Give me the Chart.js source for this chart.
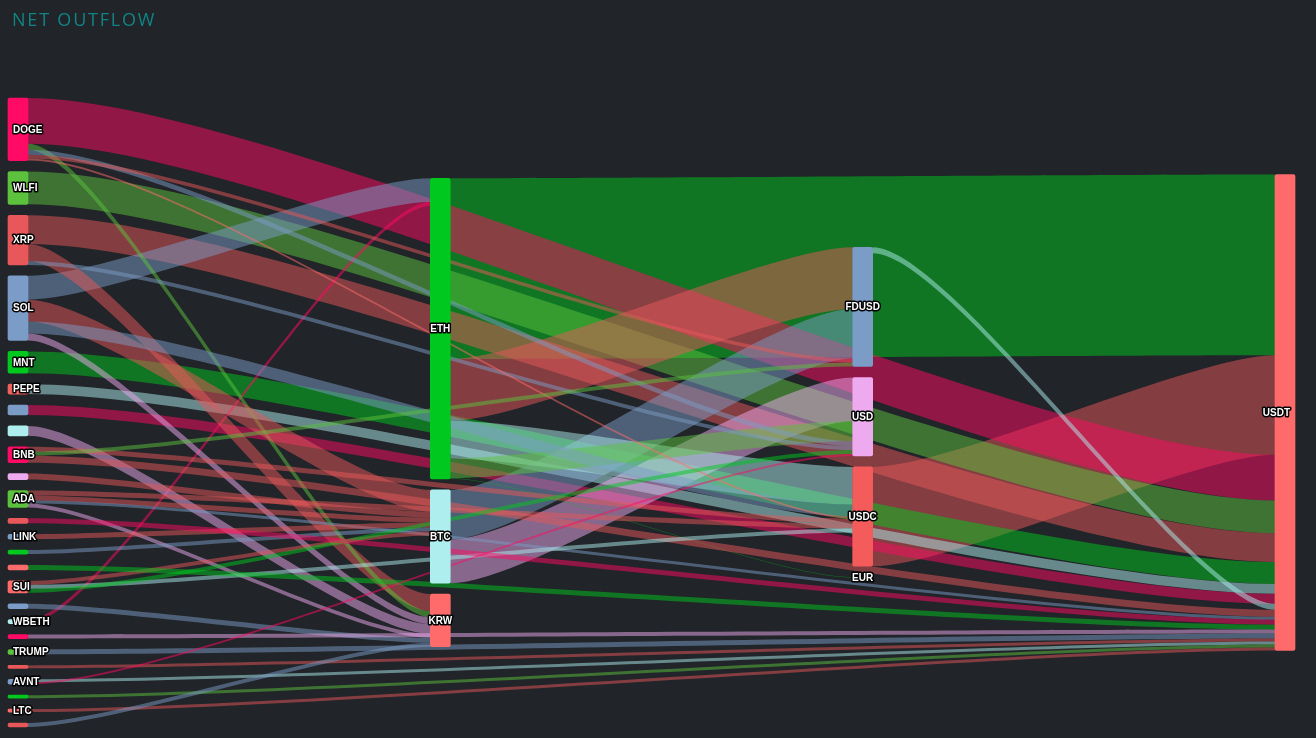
<!DOCTYPE html>
<html>
<head>
<meta charset="utf-8">
<script src="https://cdn.jsdelivr.net/npm/chart.js@4.4.1/dist/chart.umd.min.js"></script>
<style>
html,body{margin:0;padding:0;background:#212428;overflow:hidden}
canvas{display:block}
</style>
</head>
<body>
<canvas id="c" width="1316" height="738"></canvas>
<script>
// ---------------- DATA ----------------
const chartTitle = 'NET OUTFLOW';

// nodes (ids), their visible labels ('' = label hidden) and colours
const nodeIds = ['DOGE','WLFI','XRP','SOL','MNT','PEPE','c6','c7','BNB','c9','ADA','c11','LINK','c13','c14','SUI','c16','WBETH','c18','TRUMP','c20','AVNT','c22','LTC','c24',
                 'ETH','BTC','KRW','FDUSD','USD','USDC','EUR','USDT'];
const nodeLabels = ['DOGE','WLFI','XRP','SOL','MNT','PEPE','','','BNB','','ADA','','LINK','','','SUI','','WBETH','','TRUMP','','AVNT','','LTC','',
                 'ETH','BTC','KRW','FDUSD','USD','USDC','EUR','USDT'];
const nodeColors = ['#ff0a64','#5cc13d','#e8575a','#7b9cc6','#00c81e','#f0605d','#7b9cc6','#aeeeee','#ff0a64','#eeaaee','#5cc13d','#e8575a','#7b9cc6','#00c81e','#ff6b6b','#ff6b6b','#7b9cc6','#aeeeee','#ff0a64','#5cc13d','#e8575a','#7b9cc6','#00c81e','#ff6b6b','#e8575a',
                 '#00c81e','#aeeeee','#ff6b6b','#7b9cc6','#eeaaee','#f45b5b','#5cc13d','#ff6b6b'];

// links (flows), in data order
const linkFrom = ['ETH','USDC','DOGE','WLFI','XRP','MNT','PEPE','c6','FDUSD','SOL','WBETH','ETH','BTC','BTC','ETH','ETH','ETH',
                  'XRP','DOGE','DOGE','XRP','DOGE','SOL','SOL','DOGE','SOL','c7','BNB','BNB','BNB','c9','ADA','ADA','ADA','ADA',
                  'LINK','c13','SUI','SUI','SUI','c11','c14','c16','c18','TRUMP','c20','AVNT','AVNT','c22','LTC','c24'];
const linkTo   = ['USDT','USDT','USDT','USDT','USDT','USDT','USDT','USDT','USDT','ETH','ETH','FDUSD','FDUSD','USD','USDC','USD','EUR',
                  'KRW','KRW','USD','USD','FDUSD','BTC','USDC','USDC','KRW','KRW','USDC','FDUSD','USDT','BTC','USDC','BTC','USDT','KRW',
                  'BTC','BTC','BTC','USDC','USD','USDT','USDT','KRW','USDT','USDT','USDT','USDT','USD','USDT','USDT','KRW'];
const linkValues = [182,100,46,33,29,22,10,10,6,24,4,62,50,44,38,20,0.5,
                  17,6,5,4,4,22,12,2,7,10,5,4,7,6,5,5,3,4,
                  5,4,4,4,4,5,5,5,4,5,3,3,2,3,3,4];
const CR='#ff0a64', GR='#5cc13d', RD='#e8575a', BL='#7b9cc6', BG='#00c81e', SA='#ff6b6b', CY='#aeeeee', VI='#eeaaee';
const linkColors = [BG,RD,CR,GR,RD,BG,CY,CR,CY,BL,CR,RD,BL,VI,CY,GR,BG,
                  RD,GR,BL,BL,RD,RD,BL,SA,VI,VI,RD,GR,RD,RD,RD,RD,BL,VI,
                  RD,BL,RD,CY,BG,CR,BG,BL,VI,BL,RD,CY,CR,GR,RD,BL];

// ---------------- LAYOUT (value space) ----------------
const NODE_GAP = 11;      // spacing between nodes, in value units
const NODE_W = 20;        // node thickness (px)
const CURVE = 0.2;        // link curvature factor
const LINK_ALPHA = 0.5;

const N = nodeIds.length;
const idx = {}; nodeIds.forEach((n,i)=>idx[n]=i);
const links = linkFrom.map((f,i)=>({from:idx[f], to:idx[linkTo[i]], value:linkValues[i], color:linkColors[i]}));
const nodes = nodeIds.map((id,i)=>({id, label:nodeLabels[i], color:nodeColors[i], inSum:0, outSum:0, col:0, ins:[], outs:[]}));
links.forEach(l=>{nodes[l.from].outSum+=l.value; nodes[l.to].inSum+=l.value; nodes[l.from].outs.push(l); nodes[l.to].ins.push(l);});
nodes.forEach(n=>n.value=Math.max(n.inSum,n.outSum));
// columns: longest path from a source
for(let it=0;it<N;it++){ links.forEach(l=>{ if(nodes[l.to].col < nodes[l.from].col+1) nodes[l.to].col = nodes[l.from].col+1; }); }
const nCols = Math.max(...nodes.map(n=>n.col))+1;
const cols = []; for(let c=0;c<nCols;c++) cols.push(nodes.filter(n=>n.col===c));
const colH = cols.map(cn=>cn.reduce((s,n)=>s+n.value,0)+(cn.length-1)*NODE_GAP);
const H = Math.max(...colH);
cols.forEach((cn,c)=>{ let y=(H-colH[c])/2; cn.forEach(n=>{ n.top=y; y+=n.value+NODE_GAP; }); });
nodes.forEach(n=>{ let o=0; n.outs.forEach(l=>{l.sOff=o;o+=l.value;}); o=0; n.ins.forEach(l=>{l.tOff=o;o+=l.value;}); });

// ---------------- DRAWING ----------------
function hexA(hex,a){const v=parseInt(hex.slice(1),16);return `rgba(${v>>16&255},${v>>8&255},${v&255},${a})`;}

const sankeyPlugin = {
  id:'sankey',
  beforeDraw(chart){
    const ctx=chart.ctx;
    ctx.save();
    ctx.fillStyle='#212428'; ctx.fillRect(0,0,chart.width,chart.height);
    ctx.font='500 18px "Open Sans"'; ctx.fillStyle='#0f8585'; ctx.textBaseline='middle'; ctx.textAlign='left';
    try{ctx.letterSpacing='1.8px';}catch(e){}
    ctx.fillText(chartTitle,12,21);
    ctx.restore();
  },
  beforeDatasetsDraw(chart){
    const ctx=chart.ctx, xs=chart.scales.x, ys=chart.scales.y, half=NODE_W/2;
    ctx.save();
    links.forEach(l=>{
      const s=nodes[l.from], t=nodes[l.to];
      const x0=xs.getPixelForValue(s.col)+half, x1=xs.getPixelForValue(t.col)-half;
      const y0=ys.getPixelForValue(s.top+l.sOff), y0b=ys.getPixelForValue(s.top+l.sOff+l.value);
      const y1=ys.getPixelForValue(t.top+l.tOff), y1b=ys.getPixelForValue(t.top+l.tOff+l.value);
      const c=(x1-x0)*CURVE;
      ctx.beginPath();
      ctx.moveTo(x0,y0);
      ctx.bezierCurveTo(x0+c,y0,x1-c,y1,x1,y1);
      ctx.lineTo(x1,y1b);
      ctx.bezierCurveTo(x1-c,y1b,x0+c,y0b,x0,y0b);
      ctx.closePath();
      ctx.fillStyle=hexA(l.color,LINK_ALPHA);
      ctx.fill();
    });
    ctx.restore();
  },
  afterDatasetsDraw(chart){
    const ctx=chart.ctx, xs=chart.scales.x, ys=chart.scales.y;
    ctx.save();
    ctx.font='bold 10px "Liberation Sans"'; ctx.textBaseline='middle'; ctx.textAlign='left';
    ctx.lineJoin='round'; ctx.lineWidth=3; ctx.strokeStyle='#000';
    nodes.forEach(n=>{
      if(!n.label) return;
      const w=ctx.measureText(n.label).width;
      let x=xs.getPixelForValue(n.col)-w/2;
      x=Math.max(13,Math.min(x,chart.width-26-w));
      const y=ys.getPixelForValue(n.top+n.value/2)+0.5;
      ctx.strokeText(n.label,x,y);
      ctx.fillStyle='#fff'; ctx.fillText(n.label,x,y);
    });
    ctx.restore();
  }
};

new Chart(document.getElementById('c'),{
  type:'bar',
  data:{
    datasets:[{
      data:nodes.map(n=>({x:n.col, y:[n.top, n.top+n.value]})),
      backgroundColor:nodes.map(n=>n.color),
      borderWidth:0, borderRadius:2, borderSkipped:false,
      barThickness:NODE_W, clip:false
    }]
  },
  options:{
    responsive:false, animation:false, devicePixelRatio:1,
    layout:{padding:{top:98,bottom:11,left:18,right:31}},
    plugins:{legend:{display:false},tooltip:{enabled:false},title:{display:false}},
    scales:{
      x:{type:'linear',min:0,max:nCols-1,offset:false,display:false},
      y:{type:'linear',min:0,max:H,reverse:true,display:false}
    }
  },
  plugins:[sankeyPlugin]
});
</script>
</body>
</html>
